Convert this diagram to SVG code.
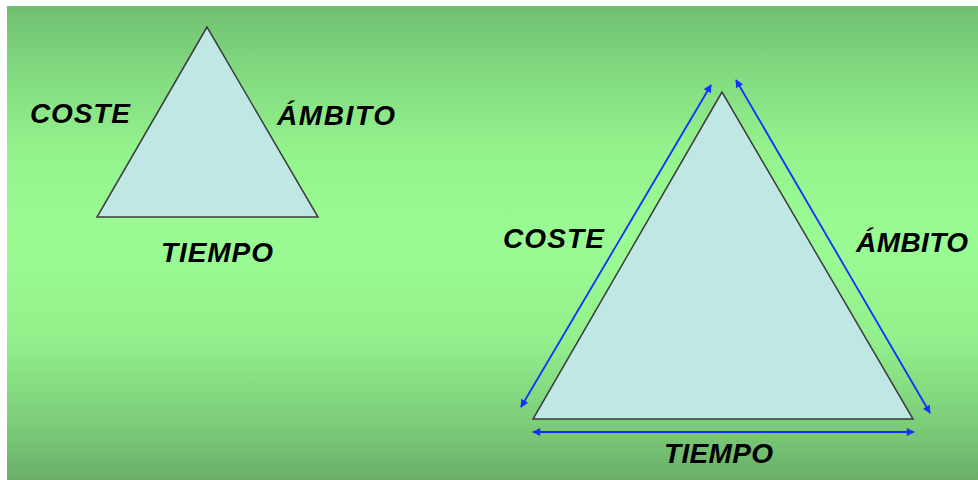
<svg xmlns="http://www.w3.org/2000/svg" width="978" height="480" viewBox="0 0 978 480">
  <defs>
    <linearGradient id="bg" x1="0" y1="0" x2="0" y2="1">
      <stop offset="0" stop-color="#6fbf70"/>
      <stop offset="0.12" stop-color="#80d67e"/>
      <stop offset="0.3" stop-color="#93f28c"/>
      <stop offset="0.5" stop-color="#9afb93"/>
      <stop offset="0.7" stop-color="#93f08c"/>
      <stop offset="0.88" stop-color="#7ccd79"/>
      <stop offset="1" stop-color="#6aae69"/>
    </linearGradient>
    <marker id="ah" viewBox="0 0 10 10" refX="9" refY="5" markerWidth="9" markerHeight="8" markerUnits="userSpaceOnUse" orient="auto-start-reverse">
      <path d="M0,0 L10,5 L0,10 Z" fill="#1430ff"/>
    </marker>
    <style>
      .tri { fill: #bfe7e4; stroke: #3c3c3c; stroke-width: 1.5; stroke-linejoin: miter; }
      .arr { stroke: #1430ff; stroke-width: 1.8; fill: none; marker-start: url(#ah); marker-end: url(#ah); }
      .lbl { font-family: "Liberation Sans", Arial, sans-serif; font-weight: bold; font-style: italic; font-size: 28px; fill: #000; }
    </style>
  </defs>
  <rect x="0" y="0" width="978" height="480" fill="#ffffff"/>
  <rect x="7" y="6" width="971" height="474" fill="url(#bg)"/>

  <g id="small-triangle">
    <polygon class="tri" points="207,27 97,217 318,217"/>
    <text class="lbl" x="30" y="123" textLength="100" lengthAdjust="spacing">COSTE</text>
    <text class="lbl" x="277" y="125" textLength="118" lengthAdjust="spacing">ÁMBITO</text>
    <text class="lbl" x="161" y="262" textLength="112" lengthAdjust="spacing">TIEMPO</text>
  </g>

  <g id="large-triangle">
    <polygon class="tri" points="722,92 533,419 913,419"/>
    <text class="lbl" x="503" y="248" textLength="101" lengthAdjust="spacing">COSTE</text>
    <text class="lbl" x="856" y="252" textLength="112" lengthAdjust="spacing">ÁMBITO</text>
    <text class="lbl" x="664" y="463" textLength="109" lengthAdjust="spacing">TIEMPO</text>
  </g>

  <g id="connectors">
    <line class="arr" x1="521" y1="407" x2="711" y2="85"/>
    <line class="arr" x1="736" y1="80" x2="930" y2="413"/>
    <line class="arr" x1="533" y1="432" x2="914" y2="432"/>
  </g>
</svg>
